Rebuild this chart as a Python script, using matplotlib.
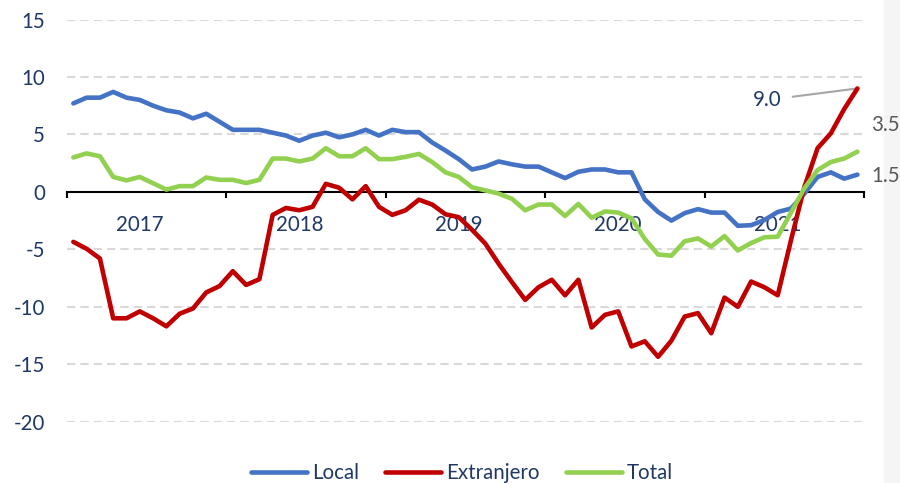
import matplotlib
matplotlib.use('Agg')
import matplotlib.pyplot as plt
from matplotlib.patches import Rectangle

plt.rcParams['font.family'] = ['Lato', 'DejaVu Sans']
plt.rcParams['lines.scale_dashes'] = False
plt.rcParams['axes.unicode_minus'] = False

# monthly series, Jan 2017 - Dec 2021
years = ['2017', '2018', '2019', '2020', '2021']
local = [7.7, 8.2, 8.2, 8.7, 8.2, 8.0, 7.5, 7.1, 6.9, 6.4, 6.8, 6.1,
         5.4, 5.4, 5.4, 5.15, 4.9, 4.45, 4.9, 5.15, 4.75, 5.0, 5.4, 4.9,
         5.4, 5.2, 5.2, 4.3, 3.6, 2.85, 1.95, 2.2, 2.65, 2.4, 2.2, 2.2,
         1.7, 1.2, 1.75, 1.95, 1.95, 1.7, 1.7, -0.65, -1.75, -2.5, -1.85, -1.5,
         -1.8, -1.8, -2.95, -2.9, -2.45, -1.75, -1.45, -0.15, 1.3, 1.7, 1.15, 1.5]
extranjero = [-4.35, -4.95, -5.8, -11.0, -11.0, -10.4, -11.0, -11.7, -10.6, -10.15, -8.75, -8.2,
              -6.9, -8.1, -7.6, -2.0, -1.4, -1.6, -1.3, 0.7, 0.36, -0.65, 0.5, -1.3,
              -2.0, -1.6, -0.68, -1.1, -1.95, -2.2, -3.3, -4.5, -6.25, -7.85, -9.4, -8.3,
              -7.65, -9.0, -7.65, -11.8, -10.7, -10.4, -13.45, -13.0, -14.35, -12.95, -10.85, -10.55,
              -12.3, -9.2, -10.0, -7.8, -8.3, -9.0, -4.2, 0.4, 3.8, 5.1, 7.2, 9.0]
total = [3.0, 3.35, 3.1, 1.3, 1.0, 1.3, 0.75, 0.2, 0.5, 0.5, 1.25, 1.05,
         1.05, 0.77, 1.05, 2.9, 2.9, 2.65, 2.9, 3.8, 3.1, 3.1, 3.8, 2.85,
         2.85, 3.05, 3.3, 2.6, 1.7, 1.3, 0.4, 0.13, -0.15, -0.6, -1.6, -1.1,
         -1.1, -2.1, -1.05, -2.25, -1.7, -1.8, -2.3, -4.1, -5.45, -5.55, -4.3, -4.05,
         -4.75, -3.85, -5.1, -4.45, -3.95, -3.9, -1.8, 0.3, 1.9, 2.6, 2.9, 3.5]
labels = ['Local', 'Extranjero', 'Total']
colors = ['#4472C4', '#C00000', '#92D050']

navy = '#1F3864'
fs = 14.8

fig = plt.figure(figsize=(9, 4.83), dpi=100)
# light strip at the right edge of the screenshot
fig.patches.append(Rectangle((884 / 900, 0), 1, 1, transform=fig.transFigure,
                             color='#f5f5f5', zorder=-5))
ax = fig.add_axes([0.0741, 0.1269, 0.886, 0.8327])
ax.set_zorder(2)
ax.patch.set_alpha(0)

x = list(range(len(local)))
for i, (s, lab, c) in enumerate(zip([local, extranjero, total], labels, colors)):
    ax.plot(x, s, color=c, lw=3.3, label=lab, solid_joinstyle='round',
            solid_capstyle='round', zorder=3 + i, clip_on=False)

ax.set_xlim(-0.5, len(local) - 0.5)
ax.set_ylim(-20, 15)
ax.set_yticks([-20, -15, -10, -5, 0, 5, 10, 15])
for v in [-20, -15, -10, -5, 5, 10, 15]:
    ax.axhline(v, color='#d9d9d9', lw=1.5, linestyle=(0, (6, 3.6)), zorder=1)

for sp in ['left', 'right', 'top']:
    ax.spines[sp].set_visible(False)
ax.spines['bottom'].set_position(('data', 0))
ax.spines['bottom'].set_linewidth(1.5)
ax.spines['bottom'].set_zorder(2)

ax.set_xticks([k - 0.5 for k in range(0, len(local) + 1, 12)])
ax.set_xticklabels([])
ax.set_xticks([5 + 12 * k for k in range(len(years))], minor=True)
ax.set_xticklabels(years, minor=True)
ax.tick_params(axis='x', which='major', direction='out', length=4.5, width=1.5)
ax.tick_params(axis='x', which='minor', length=0, pad=17, labelsize=fs, labelcolor=navy)
ax.tick_params(axis='y', length=0, pad=15.5, labelsize=fs, labelcolor=navy)

# end labels
ax.annotate('9.0', xy=(x[-1], extranjero[-1]), xytext=(53.3, 8.0), textcoords='data',
            ha='right', va='center', fontsize=fs, color=navy,
            arrowprops=dict(arrowstyle='-', color='#a6a6a6', lw=1.5, shrinkA=6, shrinkB=0))
ax.annotate('3.5', xy=(x[-1], total[-1]), xytext=(10, 19), textcoords='offset points',
            ha='left', va='center', fontsize=fs, color='#595959', annotation_clip=False)
ax.annotate('1.5', xy=(x[-1], local[-1]), xytext=(10, -1), textcoords='offset points',
            ha='left', va='center', fontsize=fs, color='#595959', annotation_clip=False)

fig.legend(loc='center', bbox_to_anchor=(462 / 900, 1 - 472.7 / 483), ncol=3,
           frameon=False, fontsize=fs, labelcolor=navy, handlelength=2.7,
           handletextpad=0.25, columnspacing=1.3, borderpad=0)

fig.savefig('out.png', dpi=100)
